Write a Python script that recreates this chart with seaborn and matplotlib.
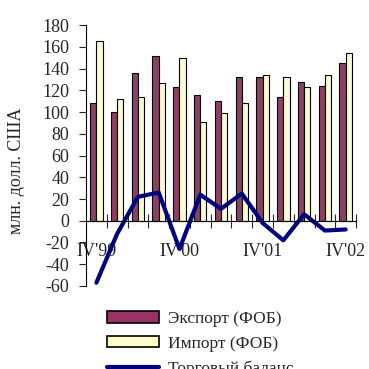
import numpy as np
import pandas as pd
import seaborn as sns
import matplotlib.pyplot as plt
from matplotlib.ticker import FixedLocator

sns.set_style("white")
plt.rcParams['font.family'] = ['Liberation Serif', 'DejaVu Serif']
plt.rcParams['axes.unicode_minus'] = False

# quarterly data, mln USD
quarters = ["IV'99", "I'00", "II'00", "III'00", "IV'00", "I'01", "II'01",
            "III'01", "IV'01", "I'02", "II'02", "III'02", "IV'02"]
export_fob = [108, 100, 136, 152, 123, 116, 110, 132, 132, 114, 128, 124, 145]
import_fob = [165, 112, 114, 127, 150, 91, 99, 108, 134, 132, 123, 134, 154]
trade_balance = [-57, -12, 22, 26, -26, 24, 11, 25, -2, -18, 6, -9, -8]
shown_labels = ["IV'99", "IV'00", "IV'01", "IV'02"]

df = pd.DataFrame({
    "quarter": quarters * 2,
    "value": export_fob + import_fob,
    "series": ["Экспорт (ФОБ)"] * len(quarters) + ["Импорт (ФОБ)"] * len(quarters),
})

fig = plt.figure(figsize=(3.69, 3.69), dpi=100)
ax = fig.add_axes([0.233, 0.225, 0.732, 0.707])

sns.barplot(data=df, x="quarter", y="value", hue="series", order=quarters,
            palette=["#993366", "#FFFFCC"], width=0.6, edgecolor="black",
            linewidth=0.8, ax=ax, legend=False)
sns.lineplot(x=np.arange(len(quarters)), y=trade_balance, color="#000080",
             linewidth=3, ax=ax)

ax.set_xlim(-0.5, len(quarters) - 0.5)
ax.set_ylim(-60, 180)
ax.set_yticks(np.arange(-60, 181, 20))
ax.set_xticks([quarters.index(q) for q in shown_labels])
ax.set_xticklabels(shown_labels)
ax.xaxis.set_minor_locator(FixedLocator(np.arange(0.5, len(quarters), 1)))
ax.tick_params(axis="x", which="major", length=0, pad=16, labelsize=13)
ax.tick_params(axis="x", which="minor", length=10, direction="inout", width=0.8, bottom=True)
ax.tick_params(axis="y", length=5, direction="out", width=0.8, left=True, labelsize=13, pad=7)

for s in ["top", "right"]:
    ax.spines[s].set_visible(False)
ax.spines["bottom"].set_position(("data", 0))
ax.spines["left"].set_color("black")
ax.spines["bottom"].set_color("black")
ax.set_xlabel("")
ax.set_ylabel("млн. долл. США", fontsize=13)
ax.yaxis.set_label_coords(-0.225, 0.44)

handles = [plt.Rectangle((0, 0), 1, 1, facecolor="#993366", edgecolor="black", linewidth=1.2),
           plt.Rectangle((0, 0), 1, 1, facecolor="#FFFFCC", edgecolor="black", linewidth=1.2),
           plt.Line2D([], [], color="#000080", linewidth=3)]
fig.legend(handles, ["Экспорт (ФОБ)", "Импорт (ФОБ)", "Торговый баланс"],
           loc="upper left", bbox_to_anchor=(0.272, 0.176), frameon=False,
           fontsize=12.5, handlelength=3.0, handleheight=0.65, labelspacing=0.5,
           handletextpad=0.5, borderaxespad=0)

fig.savefig("out.png", dpi=100)
